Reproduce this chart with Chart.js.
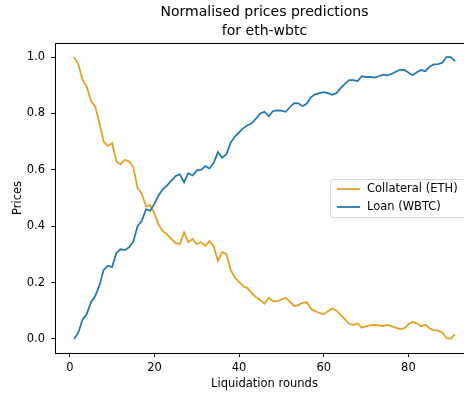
<!DOCTYPE html>
<html>
<head>
<meta charset="utf-8">
<script src="https://cdn.jsdelivr.net/npm/chart.js@4.4.1/dist/chart.umd.min.js"></script>
<style>
    html, body { margin: 0; padding: 0; background: #fff; overflow: hidden; }
    #wrap { width: 464px; height: 398px; overflow: hidden; }
</style>
</head>
<body>
<div id="wrap"><canvas id="priceChart" width="476" height="398"></canvas></div>
<script>
const rounds = [
    1, 2, 3, 4, 5, 6, 7, 8, 9, 10, 11, 12, 13, 14, 15, 16, 17, 18, 19, 20,
    21, 22, 23, 24, 25, 26, 27, 28, 29, 30, 31, 32, 33, 34, 35, 36, 37, 38, 39, 40,
    41, 42, 43, 44, 45, 46, 47, 48, 49, 50, 51, 52, 53, 54, 55, 56, 57, 58, 59, 60,
    61, 62, 63, 64, 65, 66, 67, 68, 69, 70, 71, 72, 73, 74, 75, 76, 77, 78, 79, 80,
    81, 82, 83, 84, 85, 86, 87, 88, 89, 90, 91
];

const collateral = [
    1.0, 0.975, 0.92, 0.895, 0.845, 0.825, 0.765, 0.70, 0.685, 0.695,
    0.63, 0.62, 0.635, 0.63, 0.61, 0.535, 0.515, 0.47, 0.475, 0.445,
    0.405, 0.382, 0.37, 0.355, 0.34, 0.337, 0.378, 0.343, 0.355, 0.336,
    0.344, 0.33, 0.347, 0.328, 0.277, 0.308, 0.302, 0.245, 0.218, 0.202,
    0.187, 0.18, 0.162, 0.148, 0.138, 0.125, 0.146, 0.134, 0.133, 0.14,
    0.146, 0.132, 0.117, 0.12, 0.128, 0.13, 0.106, 0.098, 0.092, 0.088,
    0.098, 0.108, 0.1, 0.085, 0.07, 0.053, 0.05, 0.055, 0.04, 0.045,
    0.048, 0.05, 0.048, 0.045, 0.05, 0.045, 0.04, 0.035, 0.037, 0.052,
    0.06, 0.055, 0.044, 0.05, 0.038, 0.03, 0.03, 0.022, 0.003, 0.0,
    0.017
];

const loan = [
    0.0, 0.022, 0.068, 0.088, 0.13, 0.152, 0.19, 0.245, 0.26, 0.255,
    0.305, 0.318, 0.315, 0.325, 0.345, 0.4, 0.418, 0.46, 0.455, 0.48,
    0.51, 0.532, 0.545, 0.562, 0.578, 0.584, 0.556, 0.588, 0.58, 0.598,
    0.6, 0.613, 0.605, 0.625, 0.663, 0.643, 0.655, 0.696, 0.718, 0.733,
    0.748, 0.758, 0.765, 0.782, 0.8, 0.806, 0.79, 0.808, 0.811, 0.81,
    0.806, 0.822, 0.837, 0.836, 0.826, 0.835, 0.858, 0.868, 0.872, 0.876,
    0.872, 0.866, 0.872, 0.89, 0.905, 0.918, 0.918, 0.915, 0.932, 0.929,
    0.93, 0.927, 0.932, 0.938, 0.935, 0.94, 0.948, 0.955, 0.955, 0.945,
    0.936, 0.946, 0.954, 0.95, 0.966, 0.974, 0.975, 0.98, 1.0, 1.0,
    0.986
];

const seriesLabels = ["Collateral (ETH)", "Loan (WBTC)"];
const xTicks = [0, 20, 40, 60, 80];
const yTicks = [0.0, 0.2, 0.4, 0.6, 0.8, 1.0];

const FONT = "'DejaVu Sans', sans-serif";
const ORANGE = "#e69f1e";
const BLUE = "#1f77b4";

function toPoints(values) {
    return rounds.map((r, i) => ({ x: r, y: values[i] }));
}

// frame around the plot area, like matplotlib spines
const framePlugin = {
    id: "frame",
    afterDatasetsDraw(chart) {
        const { ctx, chartArea: a } = chart;
        ctx.save();
        ctx.strokeStyle = "#000";
        ctx.lineWidth = 1;
        ctx.strokeRect(Math.round(a.left) + 0.5, Math.round(a.top) + 0.5,
            Math.round(a.right - a.left), Math.round(a.bottom - a.top));
        ctx.restore();
    }
};

// legend box in the middle right of the plot
const legendPlugin = {
    id: "boxLegend",
    afterDraw(chart) {
        const ctx = chart.ctx;
        const x = 330.5, y = 179.5, w = 145, h = 38;
        ctx.save();
        ctx.beginPath();
        ctx.roundRect(x, y, w, h, 3);
        ctx.fillStyle = "rgba(255,255,255,0.8)";
        ctx.fill();
        ctx.strokeStyle = "#d6d6d6";
        ctx.lineWidth = 1;
        ctx.stroke();

        chart.data.datasets.forEach((ds, i) => {
            const ly = 189 + i * 18;
            ctx.beginPath();
            ctx.moveTo(337, ly);
            ctx.lineTo(360, ly);
            ctx.strokeStyle = ds.borderColor;
            ctx.lineWidth = 1.75;
            ctx.stroke();
            ctx.fillStyle = "#000";
            ctx.font = `11.5px ${FONT}`;
            ctx.textBaseline = "middle";
            ctx.textAlign = "left";
            ctx.fillText(ds.label, 367, ly + 0.5);
        });
        ctx.restore();
    }
};

const chart = new Chart(document.getElementById("priceChart"), {
    type: "line",
    data: {
        datasets: [
            {
                label: seriesLabels[0],
                data: toPoints(collateral),
                borderColor: ORANGE,
                borderWidth: 1.75,
                pointRadius: 0,
                tension: 0,
                order: 1
            },
            {
                label: seriesLabels[1],
                data: toPoints(loan),
                borderColor: BLUE,
                borderWidth: 1.75,
                pointRadius: 0,
                tension: 0,
                order: 0
            }
        ]
    },
    options: {
        responsive: false,
        animation: false,
        layout: { padding: { left: 0, right: 2, top: 0, bottom: 0 } },
        plugins: {
            legend: { display: false },
            tooltip: { enabled: false },
            title: {
                display: true,
                text: ["Normalised prices predictions", "for eth-wbtc"],
                color: "#000",
                fullSize: false,
                font: { family: FONT, size: 14, weight: "normal", lineHeight: "19px" },
                padding: { top: 3, bottom: 2 }
            }
        },
        scales: {
            x: {
                type: "linear",
                min: -3.5,
                max: 95.5,
                afterBuildTicks: (s) => { s.ticks = xTicks.map(v => ({ value: v })); },
                afterFit: (s) => { s.height = 45; },
                grid: { drawOnChartArea: false, tickLength: 4, tickColor: "#000" },
                border: { display: false },
                ticks: {
                    color: "#000",
                    padding: 4,
                    maxRotation: 0,
                    font: { family: FONT, size: 11.5 }
                },
                title: {
                    display: true,
                    text: "Liquidation rounds",
                    color: "#000",
                    font: { family: FONT, size: 11.5 },
                    padding: { top: 0, bottom: 7 }
                }
            },
            y: {
                type: "linear",
                min: -0.05,
                max: 1.05,
                afterBuildTicks: (s) => { s.ticks = yTicks.map(v => ({ value: v })); },
                afterFit: (s) => { s.width = 55; },
                grid: { drawOnChartArea: false, tickLength: 4, tickColor: "#000" },
                border: { display: false },
                ticks: {
                    color: "#000",
                    padding: 6,
                    font: { family: FONT, size: 11.5 },
                    callback: (v) => Number(v).toFixed(1)
                },
                title: {
                    display: true,
                    text: "Prices",
                    color: "#000",
                    font: { family: FONT, size: 11.5 },
                    padding: { top: 11, bottom: 0 }
                }
            }
        }
    },
    plugins: [framePlugin, legendPlugin]
});
</script>
</body>
</html>
